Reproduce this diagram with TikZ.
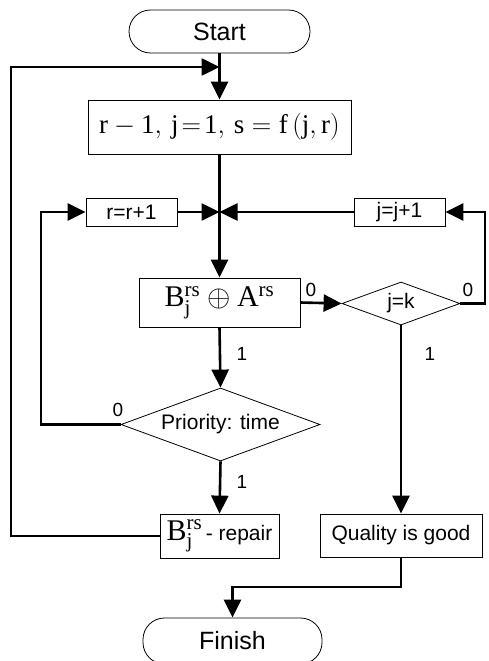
\RequirePackage{fix-cm}
\documentclass[tikz,border=0pt]{standalone}
\usepackage{fontspec}
\setmainfont{Liberation Serif}
\setsansfont{Liberation Sans}
\usetikzlibrary{arrows.meta,shapes.geometric}
\newcommand\Bjrs{\mathrm{B}^{\mathrm{rs}}_{\mathrm{j}}}
\tikzset{
  conn/.style={line width=2.6pt, line join=miter, -{Triangle[length=18pt,width=17pt]}},
  box/.style={draw, line width=0.8pt, inner sep=0pt, font=\sffamily\fontsize{21}{25}\selectfont},
  term/.style={box, rounded corners=21.5pt, font=\sffamily\fontsize{25}{29}\selectfont},
  dec/.style={draw, diamond, line width=0.8pt, inner sep=0pt, shape aspect=2.73, font=\sffamily\fontsize{21}{25}\selectfont},
  lbl/.style={inner sep=0pt, font=\sffamily\fontsize{19}{22}\selectfont},
}
\begin{document}
\begin{tikzpicture}[x=1pt,y=-1pt]
\useasboundingbox (0,0) rectangle (488,661);
% nodes
\node[term, minimum width=181pt, minimum height=43pt] (start) at (219.5,31.5) {Start};
\node[box, minimum width=263pt, minimum height=54pt, font=\fontsize{27}{31}\selectfont] (box1) at (219.5,127) {$\mathrm{r-1,\,j\!=\!1,\,s=f\,(j,r)}$};
\node[box, minimum width=91pt, minimum height=28pt] (rbox) at (131.5,212) {r=r+1};
\node[box, minimum width=91pt, minimum height=28pt] (jbox) at (399.5,212) {j=j+1};
\node[box, minimum width=161pt, minimum height=49pt, font=\fontsize{30}{34}\selectfont] (box2) at (219.5,302.5) {$\Bjrs\oplus\mathrm{A}^{\mathrm{rs}}$};
\node[dec, minimum width=118pt, minimum height=43pt] (djk) at (401,303.5) {j=k};
\node[dec, minimum width=199pt, minimum height=73pt] (dpri) at (220.5,424.5) {Priority: time};
\node[box, minimum width=119pt, minimum height=44pt] (repair) at (219.5,536) {\fontsize{30}{34}\selectfont$\Bjrs$\fontsize{21}{25}\selectfont\,- repair};
\node[box, minimum width=162pt, minimum height=43pt] (quality) at (401,535.5) {Quality is good};
\node[term, minimum width=179pt, minimum height=46pt] (finish) at (232.5,641) {Finish};
% helper coordinates
\coordinate (topj) at (219.5,67);
\coordinate (lt) at (11,67);
\coordinate (lb) at (11,536);
\coordinate (jn) at (219.5,212);
\coordinate (pl) at (41,424.5);
\coordinate (plt) at (41,212);
\coordinate (rr) at (485,303.5);
\coordinate (rrt) at (485,212);
\coordinate (q1) at (401,587);
\coordinate (q2) at (232.5,587);
% connectors
\draw[conn] (start.south) -- (box1.north);
\draw[conn] (repair.west) -- (lb) -- (lt) -- (topj);
\draw[conn] (box1.south) -- (box2.north);
\draw[conn] (rbox.east) -- (jn);
\draw[conn] (jbox.west) -- (jn);
\draw[conn] (dpri.west) -- (pl) -- (plt) -- (rbox.west);
\draw[conn] (box2.east) -- (djk.west);
\draw[conn] (djk.east) -- (rr) -- (rrt) -- (jbox.east);
\draw[conn] (box2.south) -- (dpri.north);
\draw[conn] (djk.south) -- (quality.north);
\draw[conn] (dpri.south) -- (repair.north);
\draw[conn] (quality.south) -- (q1) -- (q2) -- (finish.north);
% labels
\node[lbl] (l0a) at (311,290) {0};
\node[lbl] (l0b) at (468,290) {0};
\node[lbl] (l1a) at (242,354) {1};
\node[lbl] (l1b) at (430,354) {1};
\node[lbl] (l0c) at (118,410) {0};
\node[lbl] (l1c) at (242,482) {1};
\end{tikzpicture}
\end{document}
